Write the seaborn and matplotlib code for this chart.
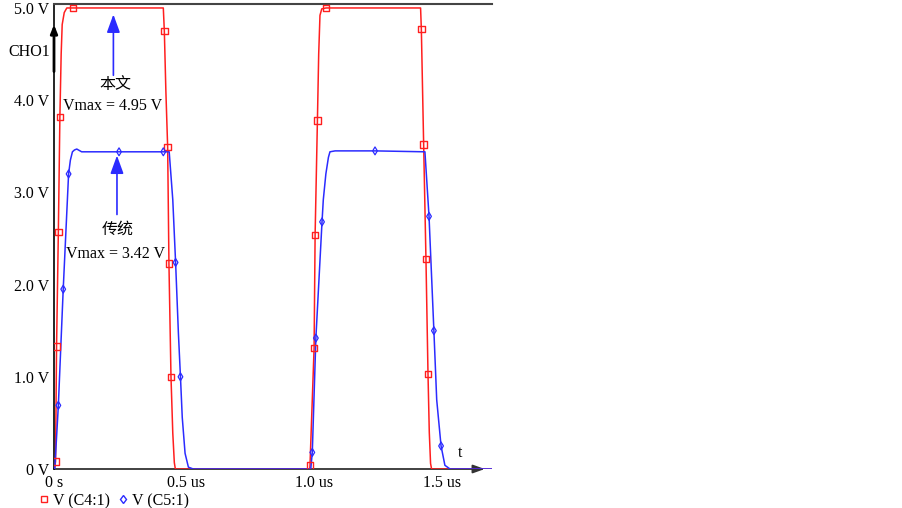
import numpy as np
import pandas as pd
import matplotlib
matplotlib.use("Agg")
import matplotlib.pyplot as plt
import seaborn as sns
from matplotlib.lines import Line2D
from matplotlib.transforms import ScaledTranslation

# ---------------- data (time in us, voltage in V) ----------------
red_t = [0.0, 0.003, 0.006, 0.010, 0.017, 0.023, 0.028, 0.032, 0.040, 0.050, 0.074,
         0.427, 0.431, 0.437, 0.444, 0.449, 0.457, 0.464, 0.470, 0.474,
         0.999, 1.000, 1.016, 1.020, 1.029, 1.034, 1.039, 1.046, 1.0625,
         1.432, 1.435, 1.444, 1.453, 1.461, 1.466, 1.471, 1.475, 1.711]
red_v = [0.0, 0.02, 0.08, 1.33, 2.57, 3.82, 4.50, 4.82, 4.95, 5.00, 5.00,
         5.00, 4.75, 4.10, 3.49, 2.23, 1.00, 0.39, 0.07, 0.0,
         0.0, 0.04, 1.31, 2.54, 3.78, 4.50, 4.92, 4.99, 5.00,
         5.00, 4.77, 3.52, 2.28, 1.03, 0.40, 0.06, 0.0, 0.0]
red_mark_t = [0.006, 0.010, 0.017, 0.023, 0.074, 0.431, 0.444, 0.449, 0.457,
              1.000, 1.016, 1.020, 1.029, 1.0625, 1.435, 1.444, 1.453, 1.461]
red_mark_v = [0.08, 1.33, 2.57, 3.82, 5.00, 4.75, 3.49, 2.23, 1.00,
              0.04, 1.31, 2.54, 3.78, 5.00, 4.77, 3.52, 2.28, 1.03]

blue_t = [0.0, 0.003, 0.017, 0.036, 0.057, 0.064, 0.072, 0.080, 0.089, 0.108, 0.254, 0.427,
          0.450, 0.464, 0.475, 0.486, 0.494, 0.501, 0.512, 0.525, 0.544,
          1.003, 1.009, 1.023, 1.047, 1.052, 1.062, 1.072, 1.078, 1.098, 1.254,
          1.449, 1.465, 1.484, 1.495, 1.512, 1.527, 1.547, 1.711]
blue_v = [0.0, 0.0, 0.69, 1.95, 3.20, 3.35, 3.44, 3.46, 3.47, 3.44, 3.44, 3.44,
          3.44, 2.92, 2.24, 1.47, 1.00, 0.56, 0.17, 0.02, 0.0,
          0.0, 0.18, 1.42, 2.68, 2.92, 3.20, 3.38, 3.44, 3.45, 3.45,
          3.44, 2.74, 1.50, 0.75, 0.25, 0.04, 0.0, 0.0]
blue_mark_t = [0.017, 0.036, 0.057, 0.254, 0.427, 0.475, 0.494,
               1.009, 1.023, 1.047, 1.254, 1.465, 1.484, 1.512]
blue_mark_v = [0.69, 1.95, 3.20, 3.44, 3.44, 2.24, 1.00,
               0.18, 1.42, 2.68, 3.45, 2.74, 1.50, 0.25]

x_ticks = [0.0, 0.5, 1.0, 1.5]
x_tick_labels = ["0 s", "0.5 us", "1.0 us", "1.5 us"]
y_ticks = [0, 1, 2, 3, 4, 5]
y_tick_labels = ["0 V", "1.0 V", "2.0 V", "3.0 V", "4.0 V", "5.0 V"]
series_labels = ["V (C4:1)", "V (C5:1)"]

RED = "#ff1f1f"
BLUE = "#2b2bff"

# ---------------- style ----------------
sns.set_theme(style="white")
plt.rcParams["font.family"] = ["Liberation Serif", "Noto Sans CJK SC"]
plt.rcParams["text.color"] = "black"
plt.rcParams["axes.labelcolor"] = "black"
plt.rcParams["xtick.color"] = "black"
plt.rcParams["ytick.color"] = "black"
FS = 11.5

fig = plt.figure(figsize=(9.03, 5.08), dpi=100)
W, H = 903, 508
ax = fig.add_axes([54 / W, 39 / H, (492 - 54) / W, (469 - 4) / H])

df_red = pd.DataFrame({"t": red_t, "v": red_v})
df_blue = pd.DataFrame({"t": blue_t, "v": blue_v})

sns.lineplot(data=df_red, x="t", y="v", color=RED, lw=1.1, sort=False,
             estimator=None, ax=ax, zorder=3)
sns.lineplot(data=df_blue, x="t", y="v", color=BLUE, lw=1.1, sort=False,
             estimator=None, ax=ax, zorder=4)
sns.scatterplot(x=red_mark_t, y=red_mark_v, marker="s", s=22, facecolor="none",
                edgecolor=RED, linewidth=1.0, ax=ax, zorder=5)
sns.scatterplot(x=blue_mark_t, y=blue_mark_v, marker="d", s=16, facecolor="none",
                edgecolor=BLUE, linewidth=0.9, ax=ax, zorder=5)

ax.set_xlim(0, 1.711)
ax.set_ylim(0, 5.043)
ax.set_xlabel("")
ax.set_ylabel("")
ax.set_xticks(x_ticks)
ax.set_xticklabels(x_tick_labels, fontsize=FS, color="black")
ax.set_yticks(y_ticks)
ax.set_yticklabels(y_tick_labels, fontsize=FS, color="black")
ax.tick_params(axis="both", direction="out", length=2.5, width=0.8, colors="black",
               labelcolor="black")
ax.tick_params(axis="y", pad=1)
ax.tick_params(axis="x", pad=2)
shift = ScaledTranslation(4 / 100, 0, fig.dpi_scale_trans)
for lab in ax.get_xticklabels()[1:]:
    lab.set_transform(lab.get_transform() + shift)

for s in ["right", "bottom"]:
    ax.spines[s].set_visible(False)
ax.spines["left"].set_color("black")
ax.spines["left"].set_linewidth(1.2)
ax.spines["top"].set_color("#444444")
ax.spines["top"].set_linewidth(1.5)

# time axis with arrow
ax.annotate("", xy=(1.683, 0), xytext=(0, 0),
            arrowprops=dict(arrowstyle="-|>,head_length=0.7,head_width=0.25",
                            color="#333333", lw=1.3, mutation_scale=10,
                            shrinkA=0, shrinkB=0),
            annotation_clip=False, zorder=2)
ax.text(1.586, 0.17, "t", ha="center", va="center", fontsize=FS, color="black")

# channel label with arrow on the y axis
ax.annotate("", xy=(0, 4.82), xytext=(0, 4.31),
            arrowprops=dict(arrowstyle="-|>,head_length=0.5,head_width=0.2",
                            color="black", lw=2.0, mutation_scale=10,
                            shrinkA=0, shrinkB=0),
            annotation_clip=False, zorder=6)
ax.annotate("CHO1", xy=(0, 4.52), xytext=(-3, 0), textcoords="offset points",
            ha="right", va="center", fontsize=FS, color="black", annotation_clip=False)

# annotations
arrow_kw = dict(arrowstyle="-|>,head_length=1.1,head_width=0.4", color=BLUE,
                lw=1.2, mutation_scale=10, shrinkA=0, shrinkB=0)
ax.annotate("", xy=(0.232, 4.93), xytext=(0.232, 4.27), arrowprops=arrow_kw, zorder=6)
ax.text(0.238, 4.165, "本文", ha="center", va="center", fontsize=FS, color="black")
ax.text(0.230, 3.94, "Vmax = 4.95 V", ha="center", va="center", fontsize=FS, color="black")

ax.annotate("", xy=(0.246, 3.40), xytext=(0.246, 2.76), arrowprops=arrow_kw, zorder=6)
ax.text(0.250, 2.59, "传统", ha="center", va="center", fontsize=FS, color="black")
ax.text(0.242, 2.33, "Vmax = 3.42 V", ha="center", va="center", fontsize=FS, color="black")

# legend
handles = [Line2D([], [], marker="s", ls="none", mec=RED, mfc="none", ms=4.5, mew=1.0),
           Line2D([], [], marker="d", ls="none", mec=BLUE, mfc="none", ms=4.5, mew=1.0)]
leg = fig.legend(handles, series_labels, loc="lower left", bbox_to_anchor=(40 / W, -1 / H),
                 ncol=2, frameon=False, handlelength=0.5, handletextpad=0.3,
                 columnspacing=0.6, borderpad=0, borderaxespad=0, fontsize=FS)
for txt in leg.get_texts():
    txt.set_color("black")

fig.savefig("out.png", dpi=100)
